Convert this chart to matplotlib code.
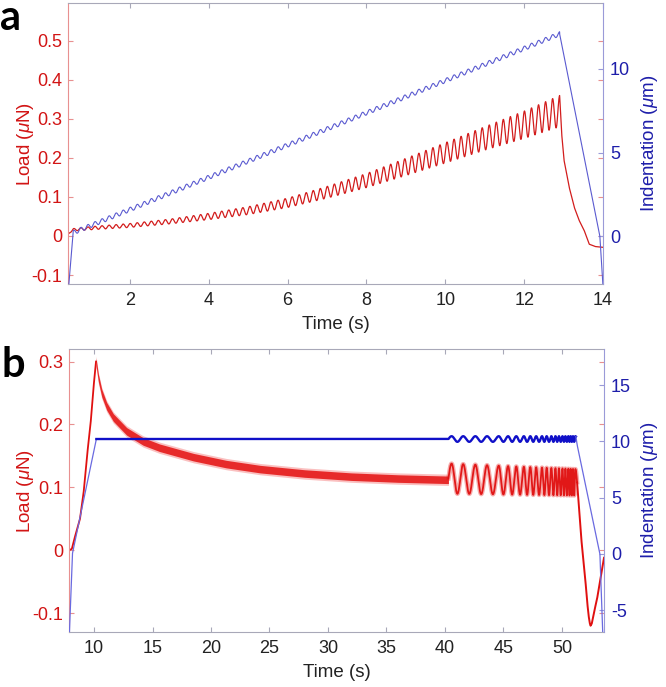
import numpy as np
import matplotlib
matplotlib.use('Agg')
import matplotlib.pyplot as plt
from matplotlib.ticker import FuncFormatter

plt.rcParams['font.family'] = ['Liberation Sans', 'DejaVu Sans']
plt.rcParams['mathtext.fontset'] = 'custom'
plt.rcParams['mathtext.it'] = 'Liberation Sans:italic'
plt.rcParams['mathtext.rm'] = 'Liberation Sans'
plt.rcParams['axes.unicode_minus'] = False

# ---------------- Panel a data ----------------
a_load_key_t = [0.43, 0.56, 1, 2, 3, 4, 5, 6, 7, 8, 9, 10, 11, 12, 12.9]
a_load_mid = [0.005, 0.016, 0.02, 0.027, 0.037, 0.05, 0.065, 0.085, 0.112, 0.142, 0.177, 0.213, 0.25, 0.285, 0.32]
a_load_amp = [0.0, 0.003, 0.004, 0.005, 0.006, 0.008, 0.010, 0.012, 0.015, 0.018, 0.022, 0.026, 0.030, 0.035, 0.040]
a_osc_freq = 5.6          # Hz, read from peak spacing
a_osc_start = 0.56
a_osc_end = 12.9
a_unload_t = [12.9, 12.95, 13.01, 13.14, 13.27, 13.39, 13.52, 13.65, 13.8, 14.0]
a_unload_load = [0.36, 0.264, 0.195, 0.126, 0.074, 0.041, 0.015, -0.021, -0.027, -0.029]
a_ind_t = [0.43, 0.56, 12.9, 13.92, 14.0]
a_ind = [-3.5, 0.2, 12.1, 0.0, -3.0]
a_ind_amp = 0.13

# ---------------- Panel b data ----------------
b_rise_t = [7.86, 8.1, 8.3, 8.5, 8.8, 9.1, 9.4, 9.7, 9.94, 10.17]
b_rise_load = [0.0, 0.002, 0.017, 0.03, 0.05, 0.09, 0.15, 0.2, 0.256, 0.30]
b_hold_t = [10.17, 10.37, 10.66, 11.08, 11.65, 12.79, 14.2, 15.6, 18.5, 21.3, 24.2, 28, 32, 36, 40.3]
b_hold_load = [0.30, 0.274, 0.25, 0.229, 0.211, 0.189, 0.173, 0.163, 0.148, 0.137, 0.129, 0.122, 0.117, 0.114, 0.112]
b_noise_half = 0.006
b_osc_start = 40.3
b_osc_end = 51.3
b_peak_t = [40.57, 41.56, 42.6, 43.6, 44.6, 45.4, 46.1, 46.75, 47.3, 47.8, 48.3,
            48.7, 49.1, 49.45, 49.75, 50.05, 50.3, 50.55, 50.75, 50.95, 51.15]
b_osc_mid = [0.114, 0.108]
b_osc_amp = [0.024, 0.021]
b_unload_t = [51.3, 51.45, 51.6, 51.8, 52.0, 52.15, 52.27, 52.37, 52.45, 52.55, 52.68,
              52.85, 53.0, 53.15, 53.3, 53.45, 53.6]
b_unload_load = [0.108, 0.07, 0.03, -0.01, -0.046, -0.08, -0.102, -0.115, -0.12, -0.117, -0.105,
                 -0.09, -0.078, -0.062, -0.045, -0.028, -0.012]
b_ind_t = [7.88, 8.15, 10.2, 51.2, 53.25, 53.5]
b_ind = [-7.5, 0.0, 10.2, 10.2, 0.0, -7.5]
b_ind_amp = 0.25

RED = '#d21414'
LRED = '#e89090'
BLUE = '#1e1eaa'
LBLUE = '#9a9ad8'
GRAY = '#a8a8b8'

fig = plt.figure(figsize=(6.66, 6.87), dpi=100)

# ---------- Panel a ----------
ax1 = fig.add_axes([68/666, 1-284/687, 535/666, 281/687])
ax2 = ax1.twinx()

ta = np.linspace(0.43, 14.0, 8000)
phase_a = 2*np.pi*a_osc_freq*(ta - a_osc_end) + np.pi/2
load_a = np.interp(ta, a_unload_t, a_unload_load)
m = ta <= a_osc_end
load_a[m] = (np.interp(ta[m], a_load_key_t, a_load_mid)
             + np.interp(ta[m], a_load_key_t, a_load_amp)*np.sin(phase_a[m]))
ind_a = np.interp(ta, a_ind_t, a_ind)
mo = (ta >= a_osc_start) & m
ind_a[mo] += a_ind_amp*np.sin(phase_a[mo])

ax1.plot(ta, load_a, color='#d01010', lw=0.9, alpha=0.95)
ax2.plot(ta, ind_a, color='#5a5ad0', lw=0.8)

# ---------- Panel b ----------
bx1 = fig.add_axes([69/666, 1-632/687, 535/666, 283/687])
bx2 = bx1.twinx()

tb = np.linspace(7.86, 53.6, 30000)
ph_t = [b_osc_start] + b_peak_t + [b_osc_end]
ph_v = ([0.0] + [np.pi/2 + 2*np.pi*k for k in range(len(b_peak_t))]
        + [np.pi/2 + 2*np.pi*(len(b_peak_t)-1) + np.pi/2])
phase_b = np.interp(tb, ph_t, ph_v)

r1 = tb <= b_rise_t[-1]
r2 = (tb >= b_hold_t[0]) & (tb <= b_hold_t[-1])
r3 = (tb >= b_osc_start) & (tb <= b_osc_end)
r4 = tb >= b_unload_t[0]

bx1.plot(tb[r1], np.interp(tb[r1], b_rise_t, b_rise_load), color='#e01010', lw=1.3)
hold = np.interp(tb[r2], b_hold_t, b_hold_load)
bx1.fill_between(tb[r2], hold - 1.5*b_noise_half, hold + 1.5*b_noise_half,
                 color='#f03030', alpha=0.3, lw=0)
bx1.fill_between(tb[r2], hold - b_noise_half, hold + b_noise_half,
                 color='#e41010', alpha=0.85, lw=0)
osc = (np.interp(tb[r3], [b_osc_start, b_osc_end], b_osc_mid)
       + np.interp(tb[r3], [b_osc_start, b_osc_end], b_osc_amp)*np.sin(phase_b[r3]))
bx1.plot(tb[r3], osc, color='#e81515', lw=3.2, alpha=0.35)
bx1.plot(tb[r3], osc, color='#e01010', lw=1.3, alpha=0.95)
bx1.plot(tb[r4], np.interp(tb[r4], b_unload_t, b_unload_load), color='#e01010', lw=1.4)

ind_b = np.interp(tb, b_ind_t, b_ind)
ind_b[r3] += b_ind_amp*np.sin(phase_b[r3])
flat = (tb >= b_ind_t[2]) & (tb <= b_ind_t[3])
bx2.plot(tb[tb <= b_ind_t[2]], ind_b[tb <= b_ind_t[2]], color='#6a6ae0', lw=0.9)
bx2.plot(tb[flat], ind_b[flat], color='#1010c8', lw=1.7)
bx2.plot(tb[tb >= b_ind_t[3]], ind_b[tb >= b_ind_t[3]], color='#6a6ae0', lw=0.9)

fmt = FuncFormatter(lambda v, p: f'{v:g}')


def style(a1, a2, xlim, xticks, y1lim, y1ticks, y2lim, y2ticks):
    a1.set_xlim(xlim)
    a1.set_ylim(y1lim)
    a2.set_ylim(y2lim)
    a1.set_xticks(xticks)
    a1.set_yticks(y1ticks)
    a2.set_yticks(y2ticks)
    a1.xaxis.set_major_formatter(fmt)
    a1.yaxis.set_major_formatter(fmt)
    a2.yaxis.set_major_formatter(fmt)
    a1.tick_params(axis='x', direction='in', top=True, bottom=True, length=3.6,
                   color=GRAY, labelcolor='#222222', labelsize=13, pad=6)
    a1.tick_params(axis='y', direction='in', left=True, right=True, length=3.6,
                   color=LRED, labelcolor=RED, labelsize=13, pad=4)
    a2.tick_params(axis='y', direction='in', length=3.6, color=LBLUE,
                   labelcolor=BLUE, labelsize=13, pad=5)
    for s in ['top', 'bottom']:
        a1.spines[s].set_color(GRAY)
        a2.spines[s].set_visible(False)
    a1.spines['left'].set_color(LRED)
    a1.spines['right'].set_visible(False)
    a2.spines['left'].set_visible(False)
    a2.spines['right'].set_color(LBLUE)
    a1.set_xlabel('Time (s)', fontsize=13.5, color='#222222', labelpad=5)
    a1.set_ylabel(r'Load ($\mu$N)', fontsize=13.5, color=RED)
    a2.set_ylabel(r'Indentation ($\mu$m)', fontsize=13.5, color=BLUE)


style(ax1, ax2, (0.43, 14.0), [2, 4, 6, 8, 10, 12, 14],
      (-0.123, 0.597), [-0.1, 0, 0.1, 0.2, 0.3, 0.4, 0.5],
      (-2.87, 13.95), [0, 5, 10])
ax1.yaxis.set_label_coords(-0.060, 0.5)
ax2.yaxis.set_label_coords(1.068, 0.5)

style(bx1, bx2, (7.86, 53.6), [10, 15, 20, 25, 30, 35, 40, 45, 50],
      (-0.13, 0.32), [-0.1, 0, 0.1, 0.2, 0.3],
      (-6.95, 18.2), [-5, 0, 5, 10, 15])
bx1.yaxis.set_label_coords(-0.062, 0.5)
bx2.yaxis.set_label_coords(1.066, 0.5)

fig.text(0.0, 1-30/687, 'a', fontsize=30, fontweight='bold', family='Lato', va='baseline', ha='left')
fig.text(0.003, 1-377/687, 'b', fontsize=30, fontweight='bold', family='Lato', va='baseline', ha='left')

fig.savefig('out.png', dpi=100)
